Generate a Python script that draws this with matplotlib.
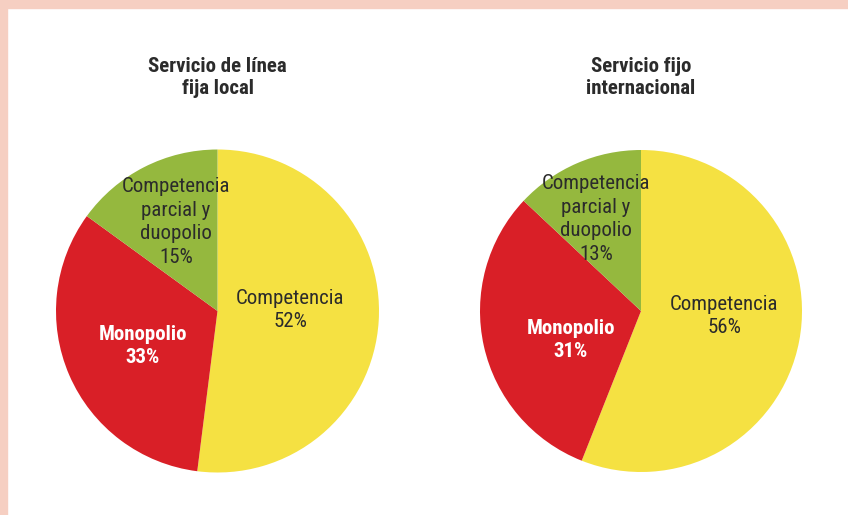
import matplotlib
matplotlib.use("Agg")
import matplotlib.pyplot as plt
from matplotlib.patches import Rectangle
from matplotlib import font_manager

W, H = 848, 515

# pick a condensed font if one is installed
cand = None
stretch = "normal"
entries = font_manager.fontManager.ttflist
for pref in ["Liberation Sans Narrow", "Roboto Condensed", "Open Sans Condensed", "Arial Narrow"]:
    if any(f.name == pref for f in entries):
        cand = pref
        break
if cand is None:
    for f in entries:
        if ("Narrow" in f.name or "Condensed" in f.name):
            cand = f.name
            break
if cand is None:
    for f in entries:
        if str(f.stretch) in ("condensed", "semi-condensed", "extra-condensed") or (
                isinstance(f.stretch, int) and f.stretch < 500):
            cand = f.name
            stretch = "condensed"
            break
FONT = cand or "Liberation Sans"
plt.rcParams['font.family'] = [FONT, 'Liberation Sans', 'DejaVu Sans']
plt.rcParams['font.stretch'] = stretch

# ---- data ----
titles = ["Servicio de línea\nfija local", "Servicio fijo\ninternacional"]
categories = ["Competencia", "Monopolio", "Competencia\nparcial y\nduopolio"]
values_local = [52, 33, 15]
values_intl = [56, 31, 13]
colors = ["#F5E142", "#D91F27", "#95B83E"]
text_colors = ["#2b2b2b", "white", "#2b2b2b"]
bold = [False, True, False]

fig = plt.figure(figsize=(W / 100, H / 100), dpi=100)
fig.patch.set_facecolor("white")

border = "#F6CFC2"
fig.add_artist(Rectangle((0, 1 - 8 / H), 1, 8 / H, transform=fig.transFigure, color=border, zorder=0))
fig.add_artist(Rectangle((0, 0), 7 / W, 1, transform=fig.transFigure, color=border, zorder=0))

def px(x, y):
    return x / W, 1 - y / H

pies = [
    dict(cx=217.5, cy=311, r=161.5, vals=values_local, title=titles[0],
         labels=[(290, 310), (143, 346), (176, 222)]),
    dict(cx=641, cy=311, r=161, vals=values_intl, title=titles[1],
         labels=[(724, 316), (571, 340), (596, 219)]),
]

for p in pies:
    cx, cy, r = p["cx"], p["cy"], p["r"]
    ax = fig.add_axes([(cx - r) / W, (H - cy - r) / H, 2 * r / W, 2 * r / H])
    ax.pie(p["vals"], colors=colors, startangle=90, counterclock=False, radius=1,
           wedgeprops=dict(linewidth=0))
    ax.set_xlim(-1, 1)
    ax.set_ylim(-1, 1)
    ax.set_aspect("auto")
    ax.axis("off")
    tx, ty = px(cx, 78)
    fig.text(tx, ty, p["title"], ha="center", va="center", fontsize=15,
             fontweight="bold", color="#2b2b2b", linespacing=1.2)
    for i, (lx, ly) in enumerate(p["labels"]):
        fx, fy = px(lx, ly)
        fig.text(fx, fy, f"{categories[i]}\n{p['vals'][i]}%", ha="center", va="center",
                 fontsize=15, color=text_colors[i],
                 fontweight="bold" if bold[i] else "normal", linespacing=1.3)

fig.savefig("out.png", dpi=100)
